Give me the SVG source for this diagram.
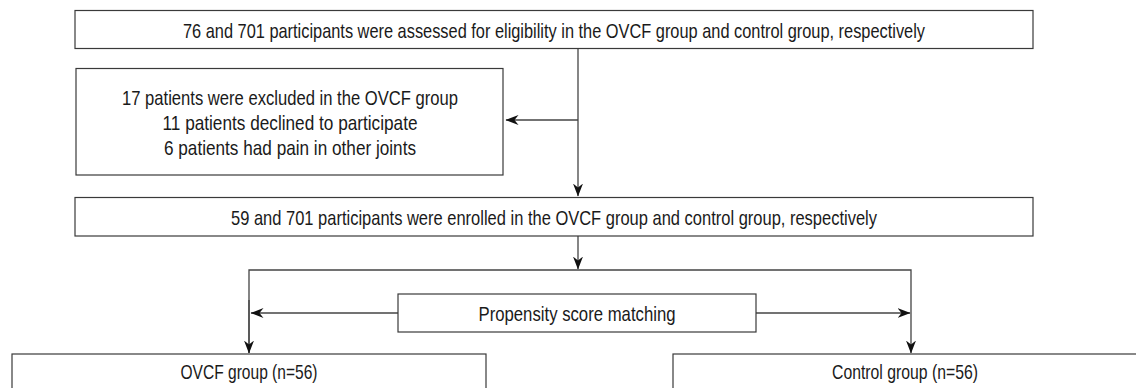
<svg xmlns="http://www.w3.org/2000/svg" width="1136" height="388" viewBox="0 0 1136 388">
<style>
.box{fill:#fff;stroke:#3a3a3a;stroke-width:1.2}
.t{font-family:"Liberation Sans Narrow","Liberation Sans",Arial,sans-serif;font-size:21px;fill:#1a1a1a;text-anchor:middle}
.c{fill:none;stroke:#444;stroke-width:1.3}
</style>
<defs>
<marker id="ah" markerWidth="14" markerHeight="12" refX="12.5" refY="5" orient="auto" markerUnits="userSpaceOnUse">
<path d="M0,0 L13,5 L0,10 L4,5 z" fill="#111"/>
</marker>
</defs>
<rect width="1136" height="388" fill="#fff"/>
<g id="connectors">
<line class="c" x1="578" y1="49" x2="578" y2="196" marker-end="url(#ah)"/>
<line class="c" x1="578" y1="120" x2="506" y2="120" marker-end="url(#ah)"/>
<line class="c" x1="578" y1="236" x2="578" y2="269" marker-end="url(#ah)"/>
<polyline class="c" points="249,353 249,270 911,270 911,353" marker-end="url(#ah)" stroke="#222"/>
<line class="c" x1="249" y1="300" x2="249" y2="353" marker-end="url(#ah)"/>
<line class="c" x1="398" y1="313" x2="251" y2="313" marker-end="url(#ah)"/>
<line class="c" x1="756" y1="313" x2="910" y2="313" marker-end="url(#ah)"/>
</g>
<g id="n1">
<rect class="box" x="75" y="10.5" width="958" height="38"/>
<text class="t" x="554" y="37.5" textLength="742" lengthAdjust="spacingAndGlyphs">76 and 701 participants were assessed for eligibility in the OVCF group and control group, respectively</text>
</g>
<g id="n2">
<rect class="box" x="76" y="68.5" width="427" height="106.5"/>
<text class="t" x="290" y="104.5" textLength="336" lengthAdjust="spacingAndGlyphs">17 patients were excluded in the OVCF group</text>
<text class="t" x="290" y="129.5" textLength="255" lengthAdjust="spacingAndGlyphs">11 patients declined to participate</text>
<text class="t" x="290" y="154.5" textLength="252" lengthAdjust="spacingAndGlyphs">6 patients had pain in other joints</text>
</g>
<g id="n3">
<rect class="box" x="75" y="197.5" width="958" height="38.5"/>
<text class="t" x="554" y="224.5" textLength="646" lengthAdjust="spacingAndGlyphs">59 and 701 participants were enrolled in the OVCF group and control group, respectively</text>
</g>
<g id="n4">
<rect class="box" x="398" y="294" width="358" height="38"/>
<text class="t" x="577" y="320.5" textLength="197" lengthAdjust="spacingAndGlyphs">Propensity score matching</text>
</g>
<g id="n5">
<rect class="box" x="12" y="354" width="474" height="60"/>
<text class="t" x="249" y="379" textLength="137" lengthAdjust="spacingAndGlyphs">OVCF group (n=56)</text>
</g>
<g id="n6">
<rect class="box" x="673" y="354" width="480" height="60"/>
<text class="t" x="905" y="379" textLength="146" lengthAdjust="spacingAndGlyphs">Control group (n=56)</text>
</g>
</svg>
